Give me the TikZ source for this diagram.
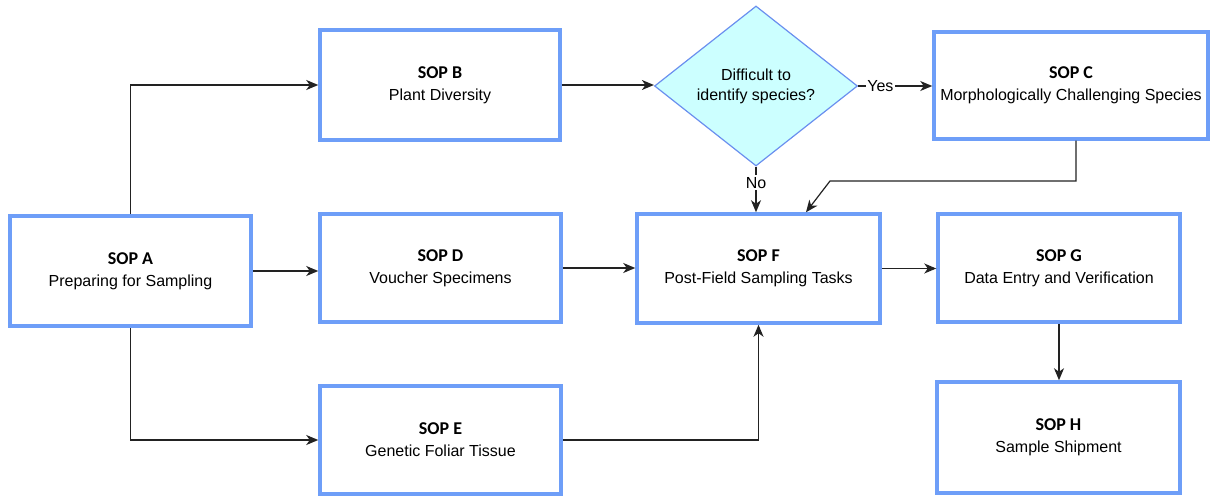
\documentclass[tikz,border=0pt]{standalone}
\usepackage{fontspec}
\setmainfont{Liberation Sans}
\newfontfamily\titlefont{Carlito}
\usetikzlibrary{shapes.geometric,arrows.meta}
\definecolor{boxblue}{HTML}{6E9EF8}
\definecolor{diablue}{HTML}{6A8FEF}
\definecolor{diafill}{HTML}{CCFFFF}
\definecolor{linegray}{HTML}{222222}
\tikzset{
  sopbox/.style={draw=boxblue, line width=3.5pt, fill=white, rectangle, inner sep=0pt,
    align=center, font=\fontsize{16}{22}\selectfont},
  decision/.style={draw=diablue, line width=1.2pt, fill=diafill, diamond, aspect=1.27,
    inner sep=0pt, minimum width=203pt, minimum height=160pt, align=center,
    font=\fontsize{16}{20}\selectfont},
  arr/.style={draw=linegray, line width=1.2pt, -{Stealth[length=12pt,width=10pt,inset=3.5pt]}},
  lbl/.style={fill=white, inner sep=1.5pt, font=\fontsize{16}{18}\selectfont}
}
\newcommand{\soptitle}[1]{{\titlefont\bfseries\fontsize{18}{22}\selectfont #1}}
\begin{document}
\begin{tikzpicture}[x=1pt,y=-1pt]
\useasboundingbox (0,0) rectangle (1212,497);
\node[sopbox, minimum width=241pt, minimum height=110pt] (A) at (130.5,271) {\soptitle{SOP A}\\Preparing for Sampling};
\node[sopbox, minimum width=240pt, minimum height=110pt] (B) at (440,85) {\soptitle{SOP B}\\Plant Diversity};
\node[decision] (dia) at (756,86) {Difficult to\\identify species?};
\node[sopbox, minimum width=274pt, minimum height=107pt] (C) at (1071,85.5) {\soptitle{SOP C}\\Morphologically Challenging Species};
\node[sopbox, minimum width=241pt, minimum height=108pt] (D) at (440.5,268) {\soptitle{SOP D}\\Voucher Specimens};
\node[sopbox, minimum width=243pt, minimum height=109pt] (F) at (758.5,268.5) {\soptitle{SOP F}\\Post-Field Sampling Tasks};
\node[sopbox, minimum width=242pt, minimum height=108pt] (G) at (1059,268) {\soptitle{SOP G}\\Data Entry and Verification};
\node[sopbox, minimum width=241pt, minimum height=108pt] (E) at (440.5,440) {\soptitle{SOP E}\\Genetic Foliar Tissue};
\node[sopbox, minimum width=243pt, minimum height=111pt] (H) at (1058.5,437.5) {\soptitle{SOP H}\\Sample Shipment};
\coordinate (c1) at (830,181);

\draw[arr] (A.north) |- (B.west);
\draw[arr] (A.south) |- (E.west);
\draw[arr] (A.east) -- (A.east -| D.west);
\draw[arr] (B.east) -- (B.east -| dia.west);
\draw[arr] (dia.east) -- node[lbl, pos=0.3] {Yes} (dia.east -| C.west);
\draw[arr] (dia.south) -- node[lbl, pos=0.35] {No} (dia.south |- F.north);
\draw[arr] ([xshift=5pt]C.south) |- (c1) -- ([xshift=47.5pt]F.north);
\draw[arr] (D.east) -- (D.east -| F.west);
\draw[arr] (F.east) -- (F.east -| G.west);
\draw[arr] (E.east) -| (F.south);
\draw[arr] (G.south) -- (G.south |- H.north);
\end{tikzpicture}
\end{document}
